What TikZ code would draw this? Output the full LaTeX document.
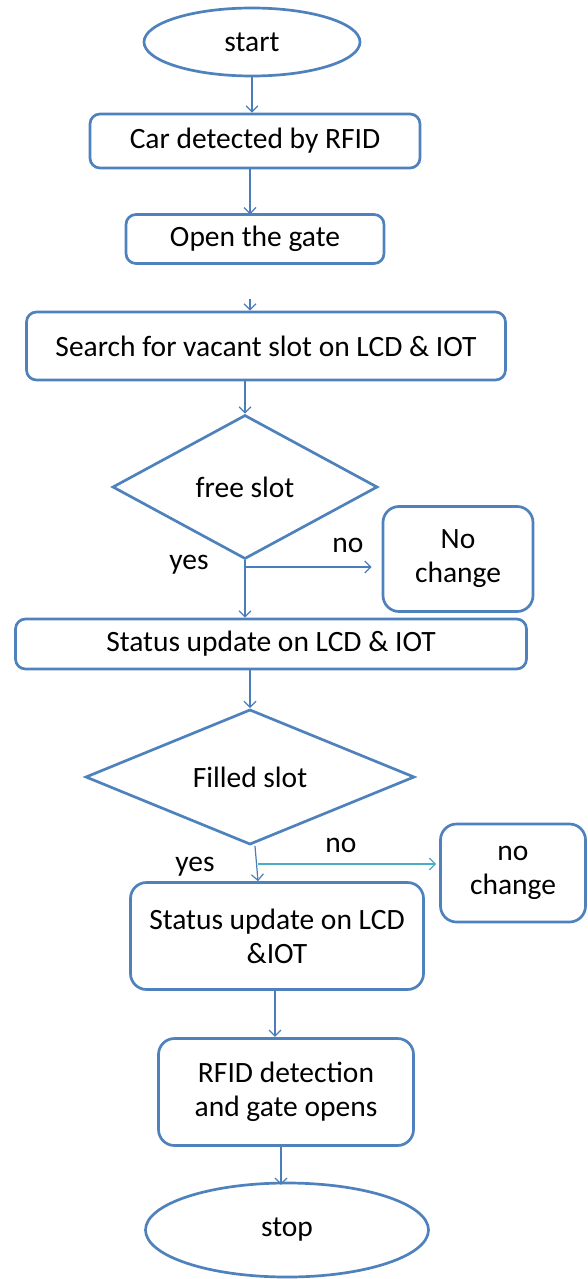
\documentclass[tikz,border=0pt]{standalone}
\usepackage{fontspec}
\setmainfont{Carlito}
\usetikzlibrary{shapes.geometric,arrows.meta}
\definecolor{boxblue}{HTML}{4F81BD}
\definecolor{linkblue}{HTML}{4A7EBB}
\definecolor{linkcyan}{HTML}{4BACC6}

\begin{document}
\begin{tikzpicture}[x=1pt,y=-1pt,
    font=\fontsize{29.5}{34}\selectfont,
    blockbox/.style={rectangle, rounded corners=10pt, draw=boxblue, line width=2.7pt, align=center, inner sep=0pt},
    termnode/.style={ellipse, draw=boxblue, line width=2.7pt, inner sep=0pt},
    decnode/.style={diamond, draw=boxblue, line width=2.7pt, inner sep=0pt},
    flowarrow/.style={draw=linkblue, line width=1.2pt, -{Straight Barb[length=6pt,width=12pt]}}
    ]
  \useasboundingbox (0,0) rectangle (587,1279);

    \node [termnode, minimum width=216pt, minimum height=68pt] (start) at (252,42) {start};
    \node [blockbox, minimum width=330pt, minimum height=54pt] (car) at (255,141) {Car detected by RFID};
    \node [blockbox, minimum width=258pt, minimum height=49pt] (gate) at (255,239) {Open the gate};
    \node [blockbox, minimum width=479pt, minimum height=68pt] (search) at (266,346) {Search for vacant slot on LCD \& IOT};

    \node [decnode, minimum width=265pt, minimum height=144pt] (free) at (245,487) {free slot};
    \node [blockbox, rounded corners=16pt, minimum width=150pt, minimum height=105pt] (nochg1) at (458,559) {No\\change};
    \node [blockbox, minimum width=511pt, minimum height=50pt] (status1) at (271,644) {Status update on LCD \& IOT};

    \node [decnode, minimum width=329pt, minimum height=134pt] (filled) at (250,777) {Filled slot};
    \node [blockbox, rounded corners=16pt, minimum width=145pt, minimum height=98pt] (nochg2) at (513,873) {no\\change};
    \node [blockbox, rounded corners=16pt, minimum width=293pt, minimum height=107pt] (status2) at (277,936) {Status update on LCD\\\&IOT};

    \node [blockbox, rounded corners=16pt, minimum width=255pt, minimum height=107pt] (rfid) at (286,1092) {RFID detection\\and gate opens};
    \node [termnode, minimum width=283pt, minimum height=94pt] (stop) at (287,1230) {stop};

    % branch labels
    \node (yes1) at (189,565) {yes};
    \node (no1) at (348,545) {no};
    \node (yes2) at (195,867) {yes};
    \node (no2) at (341,845) {no};

    \coordinate (gap) at (250,299);
    \coordinate (fork1) at (246,567);
    \coordinate (fork2) at (258,864);

    \draw [flowarrow] (start.south) -- (start.south |- car.north);
    \draw [flowarrow] (gate.north |- car.south) ++(-5,0) -- ++(0,45);
    \draw [flowarrow] (gap) -- (gap |- search.north);
    \draw [flowarrow] (free.north |- search.south) -- (free.north);
    \draw [flowarrow] (free.south) -- (free.south |- status1.north);
    \draw [flowarrow] (fork1) -- (nochg1.west |- fork1) [shorten >=10pt];
    \draw [flowarrow] (filled.north |- status1.south) -- (filled.north);
    \draw [flowarrow] (filled.south) ++(5,0) -- (status2.north -| fork2);
    \draw [flowarrow, draw=linkcyan] (fork2) -- (nochg2.west |- fork2) [shorten >=3pt];
    \draw [flowarrow] (status2.south) ++(-2,0) -- ++(0,46);
    \draw [flowarrow] (rfid.south) ++(-5,0) -- ++(0,38);
\end{tikzpicture}
\end{document}
